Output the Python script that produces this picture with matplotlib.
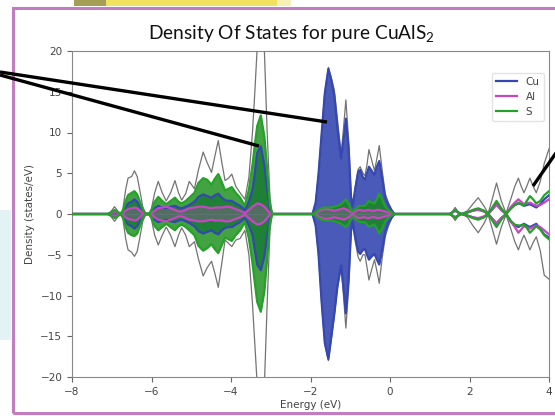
import matplotlib

matplotlib.use("Agg")
import matplotlib.pyplot as plt
import numpy as np
from matplotlib.lines import Line2D
from matplotlib.patches import Rectangle

# energy grid (eV) and spin-resolved DOS
energy = [-8.00, -7.10, -7.02, -6.93, -6.84, -6.78, -6.72, -6.65, -6.59, -6.50,
          -6.43, -6.36, -6.29, -6.22, -6.15, -6.06, -6.00, -5.92, -5.83, -5.73,
          -5.63, -5.52, -5.41, -5.32, -5.24, -5.14, -5.05, -4.92, -4.82, -4.70,
          -4.60, -4.49, -4.41, -4.32, -4.23, -4.15, -4.06, -3.98, -3.88, -3.77,
          -3.65, -3.55, -3.46, -3.40, -3.34, -3.25, -3.16, -3.09, -3.02, -2.96,
          -1.95, -1.87, -1.80, -1.72, -1.64, -1.55, -1.48, -1.40, -1.32, -1.23,
          -1.17, -1.11, -1.04, -0.98, -0.94, -0.87, -0.80, -0.75, -0.68, -0.63,
          -0.58, -0.53, -0.46, -0.39, -0.33, -0.27, -0.20, -0.12, -0.04, 0.04,
          0.12, 1.50, 1.57, 1.64, 1.71, 1.80, 1.95, 2.08, 2.22, 2.36,
          2.47, 2.56, 2.68, 2.80, 2.92, 3.05, 3.14, 3.23, 3.30, 3.37,
          3.44, 3.52, 3.60, 3.68, 3.78, 3.88, 4.00]

total_up = [0, 0, 0.3, 0.9, 0.3, 0.1, 0.6, 3.0, 4.4, 4.6,
            5.3, 4.6, 2.8, 0.9, 0.1, 0.1, 0.7, 2.6, 4.0, 2.6,
            1.6, 2.6, 4.1, 2.6, 1.7, 2.5, 4.0, 3.1, 5.4, 7.6,
            6.3, 5.1, 7.0, 9.0, 6.3, 4.1, 4.4, 4.9, 3.4, 2.6,
            1.8, 4.5, 10.0, 15.0, 20.5, 25.0, 20.0, 10.0, 2.0, 0,
            0, 1.5, 5.0, 10.0, 15.0, 18.0, 16.8, 15.2, 11.5, 7.4,
            10.5, 14.0, 9.0, 2.5, 1.2, 3.5, 5.5, 5.8, 5.0, 4.7,
            6.0, 7.9, 6.6, 5.3, 6.8, 8.4, 5.5, 2.5, 1.4, 0.6,
            0, 0, 0.3, 0.8, 0.3, 0, 0.4, 1.2, 2.0, 1.0,
            0.1, 1.6, 3.8, 1.6, 0.1, 2.0, 3.4, 4.4, 3.4, 2.6,
            3.4, 4.4, 3.4, 2.6, 4.0, 6.2, 8.0]
total_down = [0, 0, -0.3, -0.9, -0.3, -0.1, -0.6, -3.0, -4.4, -4.7,
              -5.2, -4.6, -2.8, -0.9, -0.1, -0.1, -0.7, -2.6, -3.8, -2.6,
              -1.6, -2.6, -4.0, -2.6, -1.7, -2.6, -4.0, -3.4, -5.5, -7.6,
              -6.6, -5.8, -7.2, -9.0, -6.0, -3.2, -3.6, -4.0, -3.2, -3.0,
              -2.0, -5.0, -11.0, -16.0, -21.0, -25.0, -21.0, -11.0, -2.0, 0,
              0, -1.5, -5.0, -11.0, -16.0, -18.0, -15.5, -12.5, -9.0, -6.5,
              -10.0, -14.0, -9.0, -2.5, -1.2, -3.5, -5.3, -5.8, -5.0, -5.0,
              -6.5, -8.1, -6.8, -5.6, -7.0, -8.5, -5.5, -2.8, -1.5, -0.6,
              0, 0, -0.3, -0.8, -0.3, 0, -0.4, -1.4, -2.3, -1.2,
              -0.1, -1.6, -3.7, -1.6, -0.1, -2.0, -3.4, -4.4, -3.4, -2.6,
              -3.4, -4.4, -3.5, -2.8, -4.5, -7.5, -8.0]

cu_up = [0, 0, 0.1, 0.3, 0.1, 0, 0.2, 0.9, 1.3, 1.5,
         1.8, 1.5, 0.9, 0.3, 0, 0, 0.2, 0.7, 1.0, 0.8,
         0.7, 0.9, 1.0, 0.8, 0.7, 0.9, 1.1, 1.5, 2.1, 2.4,
         2.2, 2.0, 2.3, 2.5, 2.0, 1.7, 1.6, 1.6, 1.3, 1.0,
         0.5, 1.5, 3.0, 5.0, 7.5, 8.3, 6.0, 3.0, 0.6, 0,
         0, 1.4, 4.8, 9.8, 14.8, 17.8, 16.5, 14.5, 10.5, 6.8,
         9.0, 11.7, 8.0, 2.0, 0.9, 3.2, 5.2, 5.4, 4.5, 4.2,
         5.0, 5.8, 5.3, 4.8, 5.8, 6.5, 4.5, 2.0, 1.1, 0.4,
         0, 0, 0.2, 0.4, 0.2, 0, 0.2, 0.4, 0.6, 0.4,
         0, 0.5, 1.2, 0.5, 0, 0.8, 1.1, 1.3, 1.2, 1.0,
         1.1, 1.2, 1.0, 0.8, 1.2, 1.8, 2.3]
cu_down = [0, 0, -0.1, -0.3, -0.1, 0, -0.2, -0.9, -1.3, -1.5,
           -1.8, -1.5, -0.9, -0.3, 0, 0, -0.2, -0.7, -1.0, -0.8,
           -0.7, -0.9, -1.0, -0.8, -0.7, -0.9, -1.1, -1.5, -2.1, -2.4,
           -2.2, -2.0, -2.3, -2.5, -2.0, -1.7, -1.6, -1.6, -1.3, -1.0,
           -0.5, -1.4, -2.6, -4.4, -6.2, -6.9, -5.2, -2.6, -0.5, 0,
           0, -1.4, -4.8, -10.8, -15.8, -17.8, -15.2, -12.2, -8.8, -6.3,
           -9.0, -12.2, -8.0, -2.0, -0.9, -3.0, -4.6, -4.9, -4.4, -4.3,
           -5.0, -5.6, -5.2, -4.9, -5.6, -6.2, -4.5, -2.2, -1.1, -0.4,
           0, 0, -0.2, -0.4, -0.2, 0, -0.2, -0.4, -0.6, -0.4,
           0, -0.5, -1.2, -0.5, 0, -1.0, -1.4, -1.6, -1.4, -1.2,
           -1.4, -1.6, -1.4, -1.2, -1.8, -2.5, -2.9]

al_up = [0, 0, 0.1, 0.3, 0.1, 0, 0.1, 0.4, 0.6, 0.7,
         0.8, 0.7, 0.4, 0.1, 0, 0, 0.1, 0.4, 0.7, 0.8,
         0.9, 0.7, 0.5, 0.3, 0.3, 0.5, 0.7, 0.8, 0.9, 0.9,
         0.8, 0.7, 0.8, 0.8, 0.8, 0.9, 0.9, 0.8, 0.6, 0.4,
         0.1, 0.5, 0.9, 1.1, 1.3, 1.2, 0.9, 0.5, 0.1, 0,
         0, 0.1, 0.3, 0.5, 0.6, 0.6, 0.5, 0.4, 0.5, 0.6,
         0.7, 0.6, 0.4, 0.2, 0.1, 0.3, 0.5, 0.5, 0.4, 0.4,
         0.5, 0.5, 0.4, 0.4, 0.5, 0.5, 0.4, 0.3, 0.2, 0.1,
         0, 0, 0.2, 0.4, 0.2, 0, 0.2, 0.4, 0.5, 0.3,
         0, 0.5, 1.1, 0.5, 0, 0.9, 1.4, 1.8, 1.5, 1.2,
         1.3, 1.4, 1.2, 1.0, 1.1, 1.4, 1.8]
al_down = [0, 0, -0.1, -0.3, -0.1, 0, -0.1, -0.4, -0.6, -0.7,
           -0.8, -0.7, -0.4, -0.1, 0, 0, -0.1, -0.4, -0.7, -0.8,
           -0.9, -0.7, -0.5, -0.3, -0.3, -0.5, -0.7, -0.8, -0.9, -0.9,
           -0.8, -0.7, -0.8, -0.8, -0.8, -0.9, -0.9, -0.8, -0.6, -0.4,
           -0.1, -0.5, -0.9, -1.1, -1.3, -1.2, -0.9, -0.5, -0.1, 0,
           0, -0.1, -0.3, -0.5, -0.6, -0.6, -0.5, -0.4, -0.5, -0.6,
           -0.7, -0.6, -0.4, -0.2, -0.1, -0.3, -0.5, -0.5, -0.4, -0.4,
           -0.5, -0.5, -0.4, -0.4, -0.5, -0.5, -0.4, -0.3, -0.2, -0.1,
           0, 0, -0.2, -0.4, -0.2, 0, -0.2, -0.4, -0.5, -0.3,
           0, -0.5, -1.1, -0.5, 0, -1.0, -1.6, -2.3, -1.9, -1.5,
           -1.6, -1.8, -1.6, -1.4, -1.6, -2.0, -2.5]

s_up = [0, 0, 0.2, 0.5, 0.2, 0.05, 0.3, 1.6, 2.3, 2.6,
        2.8, 2.4, 1.5, 0.5, 0.05, 0.05, 0.4, 1.5, 2.1, 1.6,
        1.2, 1.6, 2.0, 1.5, 1.3, 1.6, 2.0, 2.6, 3.8, 4.4,
        4.2, 3.6, 4.3, 4.9, 3.9, 2.9, 3.1, 3.3, 2.6, 2.0,
        1.0, 3.0, 6.0, 8.5, 10.8, 12.1, 9.5, 5.5, 1.0, 0,
        0, 0.2, 0.5, 0.7, 0.8, 0.8, 0.8, 0.9, 1.0, 1.2,
        1.5, 1.8, 1.2, 0.5, 0.3, 0.6, 0.9, 1.0, 1.0, 1.0,
        1.3, 1.6, 1.4, 1.3, 1.8, 2.5, 1.8, 0.9, 0.5, 0.2,
        0, 0, 0.2, 0.5, 0.2, 0, 0.2, 0.5, 0.7, 0.4,
        0, 0.7, 1.6, 0.7, 0, 0.7, 1.1, 1.4, 1.2, 1.0,
        1.6, 2.2, 1.8, 1.3, 1.6, 2.3, 2.8]
s_down = [0, 0, -0.2, -0.5, -0.2, -0.05, -0.3, -1.6, -2.3, -2.6,
          -2.7, -2.4, -1.5, -0.5, -0.05, -0.05, -0.4, -1.5, -2.0, -1.6,
          -1.2, -1.6, -2.0, -1.5, -1.3, -1.6, -2.0, -2.6, -3.9, -4.5,
          -4.2, -3.7, -4.3, -4.8, -3.8, -2.9, -3.1, -3.3, -2.6, -2.0,
          -1.0, -3.0, -6.0, -8.5, -10.8, -12.0, -9.5, -5.5, -1.0, 0,
          0, -0.2, -0.5, -0.7, -0.8, -0.8, -0.8, -0.9, -1.0, -1.2,
          -1.4, -1.6, -1.2, -0.5, -0.3, -0.6, -0.9, -1.0, -1.0, -1.0,
          -1.3, -1.6, -1.4, -1.3, -1.8, -2.4, -1.8, -0.9, -0.5, -0.2,
          0, 0, -0.2, -0.5, -0.2, 0, -0.2, -0.5, -0.7, -0.4,
          0, -0.7, -1.6, -0.7, 0, -0.9, -1.3, -1.4, -1.4, -1.3,
          -1.7, -2.3, -1.9, -1.5, -1.9, -2.6, -3.1]

species = ["Cu", "Al", "S"]
line_colors = {"Cu": "#3547b0", "Al": "#c846c4", "S": "#25a028"}
fill_colors = {"Cu": "#3a4cb2", "Al": "#c846c4", "S": "#148c14"}
alphas = {"Cu": 0.92, "Al": 0.3, "S": 0.8}

W, H = 555, 416
fig = plt.figure(figsize=(W / 100, H / 100), dpi=100)
fig.patch.set_facecolor("white")


def fx(px):
    return px / W


def fy(py):
    return 1 - py / H


ax = fig.add_axes([fx(72), fy(377), fx(549) - fx(72), fy(51) - fy(377)])

E = np.array(energy)
occupied = E <= 0.15
series = {"Cu": (cu_up, cu_down), "Al": (al_up, al_down), "S": (s_up, s_down)}

# filled occupied states: Cu underneath, S over it, Al on top
for name in ["Cu", "S", "Al"]:
    up, dn = series[name]
    for vals in (up, dn):
        ax.fill_between(E, 0, vals, where=occupied, color=fill_colors[name],
                        alpha=alphas[name], lw=0, interpolate=True)

ax.plot(E, total_up, color="#737373", lw=0.9, zorder=3)
ax.plot(E, total_down, color="#737373", lw=0.9, zorder=3)
for name in species:
    up, dn = series[name]
    ax.plot(E, up, color=line_colors[name], lw=1.6, label=name, zorder=4)
    ax.plot(E, dn, color=line_colors[name], lw=1.6, zorder=4)

ax.set_xlim(-8, 4)
ax.set_ylim(-20, 20)
ax.set_xticks(np.arange(-8, 5, 2))
ax.set_yticks(np.arange(-20, 21, 5))
ax.tick_params(labelsize=7.5, labelcolor="#444444", color="#666666", length=3.5)
for sp in ax.spines.values():
    sp.set_color("#888888")
    sp.set_linewidth(0.8)
ax.set_xlabel("Energy (eV)", fontsize=7.5, color="#444444", labelpad=2)
ax.set_ylabel("Density (states/eV)", fontsize=7.5, color="#444444", labelpad=4)
leg = ax.legend(loc="upper right", bbox_to_anchor=(1.0, 0.95), fontsize=7.5,
                frameon=True, borderaxespad=0.5)
leg.get_frame().set_edgecolor("#dddddd")
for t in leg.get_texts():
    t.set_color("#444444")

# slide decorations around the pasted chart
plt.rcParams["mathtext.fontset"] = "custom"
plt.rcParams["mathtext.rm"] = "Lato"
fig.text(fx(291), fy(39.5), "Density Of States for pure CuAlS$_2$", ha="center",
         va="baseline", fontsize=13.8, family="Lato", color="#111111")

fig.add_artist(Rectangle((fx(13), fy(413)), fx(700), fy(7.5) - fy(413),
                         transform=fig.transFigure, fill=False,
                         edgecolor="#c27cc0", lw=2.2))
fig.add_artist(Rectangle((fx(74), fy(6)), fx(32), fy(0) - fy(6),
                         transform=fig.transFigure, color="#a59e55", lw=0))
fig.add_artist(Rectangle((fx(106), fy(6)), fx(171), fy(0) - fy(6),
                         transform=fig.transFigure, color="#f0e25e", lw=0))
fig.add_artist(Rectangle((fx(277), fy(6)), fx(14), fy(0) - fy(6),
                         transform=fig.transFigure, color="#f6efb8", lw=0))
fig.add_artist(Rectangle((0, fy(340)), fx(11), fy(210) - fy(340),
                         transform=fig.transFigure, color="#e2f2f5", lw=0))

arrows = [((0, 72), (327, 122)), ((0, 75), (259, 146)), ((558, 150), (533, 186))]
for (x0, y0), (x1, y1) in arrows:
    fig.add_artist(Line2D([fx(x0), fx(x1)], [fy(y0), fy(y1)],
                          transform=fig.transFigure, color="black", lw=2.4,
                          solid_capstyle="butt"))

fig.savefig("out.png", dpi=100)
